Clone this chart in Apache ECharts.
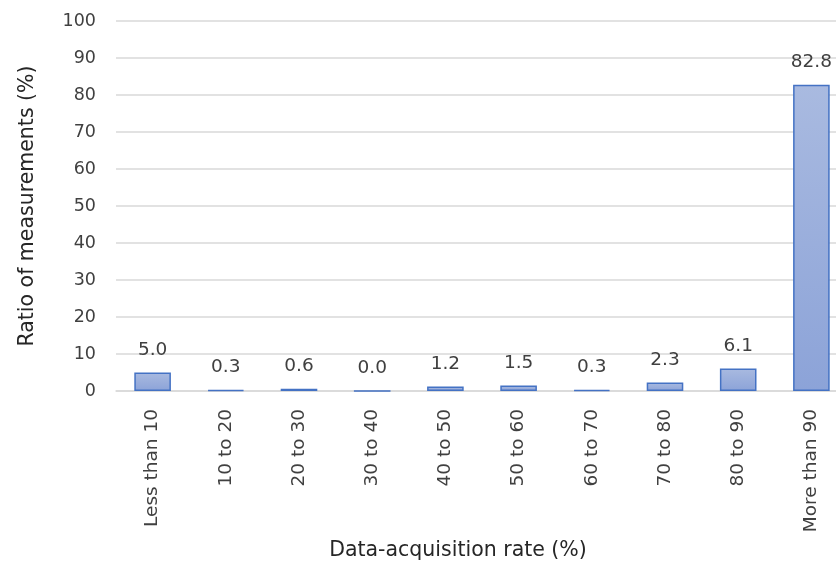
<!DOCTYPE html>
<html><head><meta charset="utf-8">
<script src="https://cdn.jsdelivr.net/npm/echarts@6/dist/echarts.min.js"></script>
<style>html,body{margin:0;padding:0;background:#fff;overflow:hidden}#c{width:836px;height:563px}</style>
</head><body><div id="c"></div>
<script>
const categories = ['Less than 10','10 to 20','20 to 30','30 to 40','40 to 50','50 to 60','60 to 70','70 to 80','80 to 90','More than 90'];
const values = [5.0, 0.3, 0.6, 0.0, 1.2, 1.5, 0.3, 2.3, 6.1, 82.8];
const yTicks = [0,10,20,30,40,50,60,70,80,90,100];
const font = '"DejaVu Sans", sans-serif';
const chart = echarts.init(document.getElementById('c'));
chart.setOption({
  animation:false,
  grid:{left:116, top:21, width:732, height:370, containLabel:false, outerBoundsMode:'none'},
  xAxis:{type:'category', data:categories,
    axisLine:{show:true, lineStyle:{color:'#d9d9d9', width:1.5}}, axisTick:{show:false},
    axisLabel:{rotate:90, color:'#404040', fontSize:18.5, fontFamily:font, margin:18, interval:0},
    name:'Data-acquisition rate (%)', nameLocation:'middle', nameGap:147,
    nameTextStyle:{color:'#262626', fontSize:20.5, fontFamily:font, padding:[0,48,0,0]}},
  yAxis:{type:'value', min:yTicks[0], max:yTicks[yTicks.length-1], interval:10,
    axisLine:{show:false}, axisTick:{show:false},
    splitLine:{lineStyle:{color:'#d9d9d9', width:1.5}},
    axisLabel:{color:'#404040', fontSize:17.5, fontFamily:font, margin:20},
    name:'Ratio of measurements (%)', nameLocation:'middle', nameGap:72,
    nameTextStyle:{color:'#262626', fontSize:20.5, fontFamily:font, padding:[0,0,6,0]}},
  series:[{type:'bar', data:values, barWidth:'50%',
    itemStyle:{borderColor:'#4472c4', borderWidth:1.5,
      color:new echarts.graphic.LinearGradient(0,0,0,1,[{offset:0,color:'#a9bae0'},{offset:1,color:'#8ca3d8'}])},
    label:{show:true, position:'top', distance:13, color:'#404040', fontSize:18.5, fontFamily:font,
      formatter:p=>p.value.toFixed(1)}}]
});
</script></body></html>
